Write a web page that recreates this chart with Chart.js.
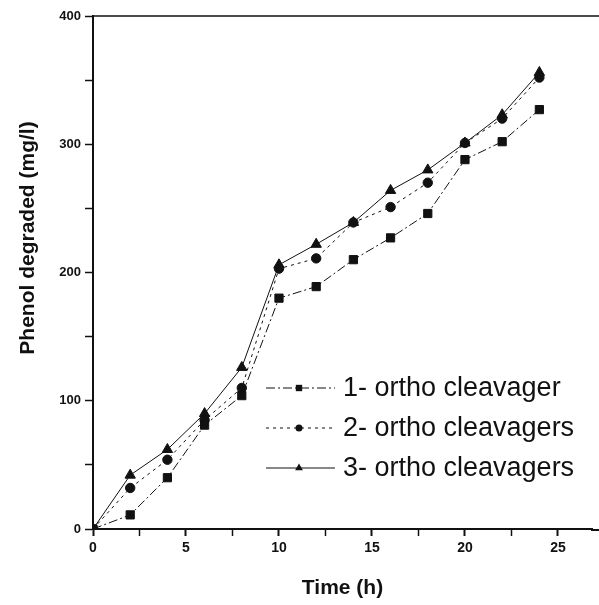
<!DOCTYPE html>
<html>
<head>
<meta charset="utf-8">
<script src="https://cdn.jsdelivr.net/npm/chart.js@4.4.1/dist/chart.umd.min.js"></script>
<style>
  html, body { margin: 0; padding: 0; background: #fff; }
  #wrap { width: 599px; height: 605px; position: relative; }
</style>
</head>
<body>
<div id="wrap"><canvas id="chart"></canvas></div>
<script>
const times = [0, 2, 4, 6, 8, 10, 12, 14, 16, 18, 20, 22, 24];
const oneCleavager = [0, 11, 40, 81, 104, 180, 189, 210, 227, 246, 288, 302, 327];
const twoCleavagers = [0, 32, 54, 85, 110, 203, 211, 239, 251, 270, 301, 320, 352];
const threeCleavagers = [0, 42, 62, 90, 126, 206, 222, 239, 264, 280, 301, 323, 356];
const seriesLabels = ["1- ortho cleavager", "2- ortho cleavagers", "3- ortho cleavagers"];
const xTitle = "Time (h)";
const yTitle = "Phenol degraded (mg/l)";

const ink = "#111";

function toPoints(values) {
  return times.map((t, i) => ({ x: t, y: values[i] }));
}

function drawMarker(ctx, style, x, y, r) {
  ctx.beginPath();
  if (style === "rect") {
    const s = r * Math.SQRT1_2;
    ctx.rect(x - s, y - s, 2 * s, 2 * s);
  } else if (style === "triangle") {
    ctx.moveTo(x, y - r);
    ctx.lineTo(x + r * 0.866, y + r * 0.5);
    ctx.lineTo(x - r * 0.866, y + r * 0.5);
    ctx.closePath();
  } else {
    ctx.arc(x, y, r, 0, Math.PI * 2);
  }
  ctx.fill();
}

// legend inside the plot, frame lines running off the right edge, rotated y title
const extras = {
  id: "extras",
  afterDraw(chart) {
    const ctx = chart.ctx;
    const area = chart.chartArea;
    ctx.save();
    ctx.strokeStyle = ink;
    ctx.lineWidth = 1.5;
    ctx.beginPath();
    ctx.moveTo(area.left, area.top);
    ctx.lineTo(chart.width, area.top);
    ctx.stroke();
    ctx.lineWidth = 2;
    ctx.beginPath();
    ctx.moveTo(area.right - 1, area.bottom + 1);
    ctx.lineTo(chart.width, area.bottom + 1);
    ctx.stroke();

    ctx.fillStyle = ink;
    ctx.font = "bold 21px 'Liberation Sans', Arial, sans-serif";
    ctx.textAlign = "center";
    ctx.textBaseline = "middle";
    ctx.translate(28, 238);
    ctx.rotate(-Math.PI / 2);
    ctx.fillText(yTitle, 0, 0);
    ctx.restore();

    ctx.save();
    const rows = [388, 428, 468];
    chart.data.datasets.forEach((ds, i) => {
      const y = rows[i];
      ctx.strokeStyle = ink;
      ctx.lineWidth = 1;
      ctx.setLineDash(ds.borderDash || []);
      ctx.beginPath();
      ctx.moveTo(266, y);
      ctx.lineTo(335, y);
      ctx.stroke();
      ctx.setLineDash([]);
      ctx.fillStyle = ink;
      drawMarker(ctx, ds.pointStyle, 299, y, ds.pointStyle === "circle" ? 3.5 : 4.5);
      ctx.font = "27px 'Liberation Sans', Arial, sans-serif";
      ctx.textAlign = "left";
      ctx.textBaseline = "middle";
      ctx.fillText(ds.label, 343, y + 1);
    });
    ctx.restore();
  }
};

new Chart(document.getElementById("chart"), {
  type: "line",
  data: {
    datasets: [
      {
        label: seriesLabels[0],
        data: toPoints(oneCleavager),
        borderColor: ink,
        backgroundColor: ink,
        borderWidth: 1,
        borderDash: [9, 3, 2, 3],
        pointStyle: "rect",
        pointRadius: 5.8,
      },
      {
        label: seriesLabels[1],
        data: toPoints(twoCleavagers),
        borderColor: ink,
        backgroundColor: ink,
        borderWidth: 1,
        borderDash: [3, 4],
        pointStyle: "circle",
        pointRadius: 4.7,
      },
      {
        label: seriesLabels[2],
        data: toPoints(threeCleavagers),
        borderColor: ink,
        backgroundColor: ink,
        borderWidth: 1,
        borderDash: [],
        pointStyle: "triangle",
        pointRadius: 6,
      },
    ],
  },
  options: {
    responsive: true,
    maintainAspectRatio: false,
    animation: false,
    layout: { padding: { top: 16, right: 0, bottom: 0, left: 0 } },
    plugins: {
      legend: { display: false },
      tooltip: { enabled: false },
    },
    elements: { line: { tension: 0 }, point: { borderWidth: 0 } },
    scales: {
      x: {
        type: "linear",
        min: 0,
        max: 26.83,
        afterFit: (scale) => { scale.height = 76; },
        border: { display: true, color: ink, width: 2 },
        grid: {
          drawOnChartArea: false,
          drawTicks: true,
          tickLength: 7,
          tickColor: ink,
          tickWidth: (c) => (c.tick && c.tick.value % 5 === 0 ? 2 : 1.5),
        },
        ticks: {
          stepSize: 2.5,
          includeBounds: false,
          autoSkip: false,
          maxRotation: 0,
          color: ink,
          padding: 4,
          font: { family: "'Liberation Sans', Arial, sans-serif", size: 14, weight: "bold" },
          callback: (v) => (v % 5 === 0 ? v : ""),
        },
        title: {
          display: true,
          text: xTitle,
          color: ink,
          padding: { top: 14 },
          font: { family: "'Liberation Sans', Arial, sans-serif", size: 21, weight: "bold" },
        },
      },
      y: {
        type: "linear",
        min: 0,
        max: 400,
        afterFit: (scale) => { scale.width = 93; },
        border: { display: true, color: ink, width: 2 },
        grid: {
          drawOnChartArea: false,
          drawTicks: true,
          tickLength: 8,
          tickColor: ink,
          tickWidth: 1.5,
        },
        ticks: {
          stepSize: 50,
          autoSkip: false,
          color: ink,
          padding: 4,
          font: { family: "'Liberation Sans', Arial, sans-serif", size: 13, weight: "bold" },
          callback: (v) => (v % 100 === 0 ? v : ""),
        },
      },
    },
  },
  plugins: [extras],
});
</script>
</body>
</html>
